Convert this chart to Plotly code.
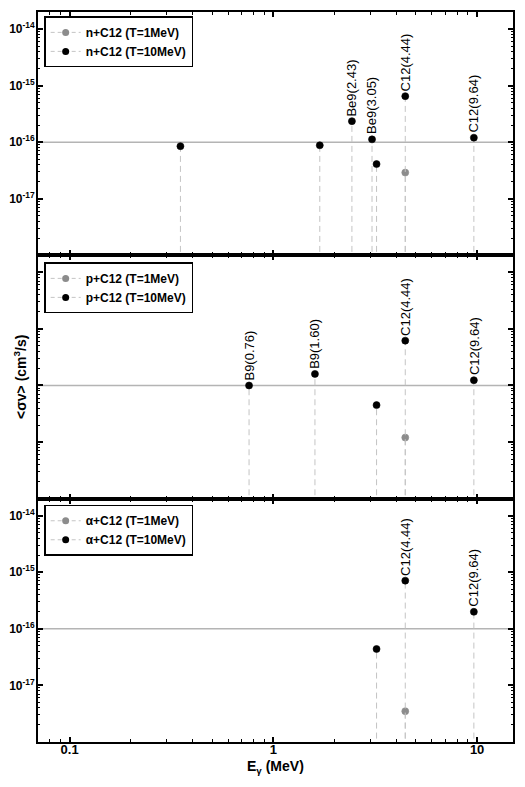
import numpy as np
import plotly.graph_objects as go
from plotly.subplots import make_subplots

# gamma-line energies (MeV) and <sigma v> (cm^3/s)
n_x_1 = [4.44]
n_y_1 = [2.9e-17]
n_x_10 = [0.35, 1.69, 2.43, 3.05, 3.21, 4.44, 9.64]
n_y_10 = [8.5e-17, 8.8e-17, 2.35e-16, 1.12e-16, 4.1e-17, 6.5e-16, 1.2e-16]
n_labels = ["", "", "Be9(2.43)", "Be9(3.05)", "", "C12(4.44)", "C12(9.64)"]

p_x_1 = [4.44]
p_y_1 = [1.2e-17]
p_x_10 = [0.76, 1.60, 3.21, 4.44, 9.64]
p_y_10 = [1.0e-16, 1.6e-16, 4.5e-17, 6.2e-16, 1.24e-16]
p_labels = ["B9(0.76)", "B9(1.60)", "", "C12(4.44)", "C12(9.64)"]

a_x_1 = [4.44]
a_y_1 = [3.5e-18]
a_x_10 = [3.21, 4.44, 9.64]
a_y_10 = [4.4e-17, 7.1e-16, 2.0e-16]
a_labels = ["", "C12(4.44)", "C12(9.64)"]

panels = [
    ("n+C12", n_x_1, n_y_1, n_x_10, n_y_10, n_labels),
    ("p+C12", p_x_1, p_y_1, p_x_10, p_y_10, p_labels),
    ("α+C12", a_x_1, a_y_1, a_x_10, a_y_10, a_labels),
]

REF_LEVEL = 1e-16
STEM_BASE = 1e-19
X_RANGE = [0.07, 15]
Y_RANGE = [1e-18, 10 ** -13.7]

FONT = "Liberation Sans, Arial, Helvetica, sans-serif"
GRAY_PT = "#8c8c8c"
STEM = "#c4c4c4"


def add_series(fig, row, xs, ys, color, name, legend):
    # dashed stems from the bottom of the panel up to each point
    sx, sy = [], []
    for x, y in zip(xs, ys):
        sx += [x, x, None]
        sy += [STEM_BASE, y, None]
    fig.add_trace(go.Scatter(x=sx, y=sy, mode="lines", showlegend=False, hoverinfo="skip",
                             line=dict(color=STEM, width=1, dash="6px,4px")), row=row, col=1)
    fig.add_trace(go.Scatter(x=xs, y=ys, mode="markers", showlegend=False,
                             marker=dict(color=color, size=7, line=dict(width=0.6, color=color))),
                  row=row, col=1)
    # legend entry: dashed line + marker
    fig.add_trace(go.Scatter(x=[None], y=[None], mode="lines+markers", name=name, legend=legend,
                             line=dict(color=STEM, width=1, dash="4px,3px"),
                             marker=dict(color=color, size=7)), row=row, col=1)


fig = make_subplots(rows=3, cols=1, shared_xaxes=True, vertical_spacing=0)

legends = ["legend", "legend2", "legend3"]
for i, (reac, x1, y1, x10, y10, labels) in enumerate(panels):
    row = i + 1
    fig.add_trace(go.Scatter(x=X_RANGE, y=[REF_LEVEL, REF_LEVEL], mode="lines", showlegend=False,
                             line=dict(color="#b4b4b4", width=1.5), hoverinfo="skip"), row=row, col=1)
    add_series(fig, row, x1, y1, GRAY_PT, reac + " (T=1MeV)", legends[i])
    add_series(fig, row, x10, y10, "black", reac + " (T=10MeV)", legends[i])

    suffix = "" if row == 1 else str(row)
    for x, y, lab in zip(x10, y10, labels):
        if not lab:
            continue
        fig.add_annotation(x=np.log10(x), y=np.log10(y), xref="x" + suffix, yref="y" + suffix,
                           text=lab, textangle=-90, showarrow=False, xanchor="center",
                           yanchor="bottom", yshift=3, font=dict(family=FONT, size=13, color="black"))

# axes
decades = [1e-17, 1e-16, 1e-15, 1e-14]
dec_text = ["<b>10<sup>-%d</sup></b>" % e for e in [17, 16, 15, 14]]
y_minor = [m * 10.0 ** e for e in range(-19, -13) for m in range(2, 10)]
x_minor = [m * 10.0 ** e for e in range(-2, 2) for m in range(2, 10)]

for row in [1, 2, 3]:
    fig.update_yaxes(type="log", range=[np.log10(Y_RANGE[0]), np.log10(Y_RANGE[1])],
                     tickmode="array", tickvals=decades,
                     ticktext=dec_text if row != 2 else [""] * 4,
                     ticks="inside", ticklen=5, tickwidth=1.5, tickcolor="black",
                     minor=dict(tickmode="array", tickvals=y_minor, ticks="inside", ticklen=2,
                                tickwidth=1, tickcolor="black", showgrid=False),
                     showline=True, linewidth=2, linecolor="black", mirror="ticks",
                     showgrid=False, zeroline=False, automargin=False, ticklabelstandoff=-1,
                     tickfont=dict(family=FONT, size=12, color="black"), row=row, col=1)
    fig.update_xaxes(type="log", range=[np.log10(X_RANGE[0]), np.log10(X_RANGE[1])],
                     tickmode="array", tickvals=[0.1, 1, 10],
                     ticktext=["<b>0.1</b>", "<b>1</b>", "<b>10</b>"],
                     ticks="inside", ticklen=5, tickwidth=1.5, tickcolor="black",
                     minor=dict(tickmode="array", tickvals=x_minor, ticks="inside", ticklen=3,
                                tickwidth=1, tickcolor="black", showgrid=False),
                     showline=True, linewidth=2, linecolor="black", mirror="ticks",
                     showgrid=False, zeroline=False, automargin=False,
                     tickfont=dict(family=FONT, size=13, color="black"), row=row, col=1)
fig.update_xaxes(ticklabelstandoff=-6, row=3, col=1)

leg_style = dict(x=0.013, xanchor="left", yanchor="top", bgcolor="white",
                 bordercolor="black", borderwidth=1.5, traceorder="normal",
                 font=dict(family=FONT, size=12, color="black", weight="bold"),
                 itemwidth=30, tracegroupgap=0)

# page body has an 8px margin, so the figure is drawn 8px smaller
fig.update_layout(
    width=517, height=779,
    margin=dict(l=30, r=12, t=4, b=45),
    paper_bgcolor="white", plot_bgcolor="white",
    showlegend=True,
    legend=dict(y=0.994, **leg_style),
    legend2=dict(y=0.657, **leg_style),
    legend3=dict(y=0.325, **leg_style),
)

fig.add_annotation(xref="paper", yref="paper", x=0.5, y=-0.034, showarrow=False,
                   text="<b>E<sub>γ</sub> (MeV)</b>", xanchor="center", yanchor="middle",
                   font=dict(family=FONT, size=14, color="black"))
fig.add_annotation(xref="paper", yref="paper", x=-0.038, y=0.5, showarrow=False,
                   text="<b>&lt;σv&gt; (cm<sup>3</sup>/s)</b>", textangle=-90,
                   xanchor="center", yanchor="middle",
                   font=dict(family=FONT, size=14, color="black"))

fig.write_html("out.html")
